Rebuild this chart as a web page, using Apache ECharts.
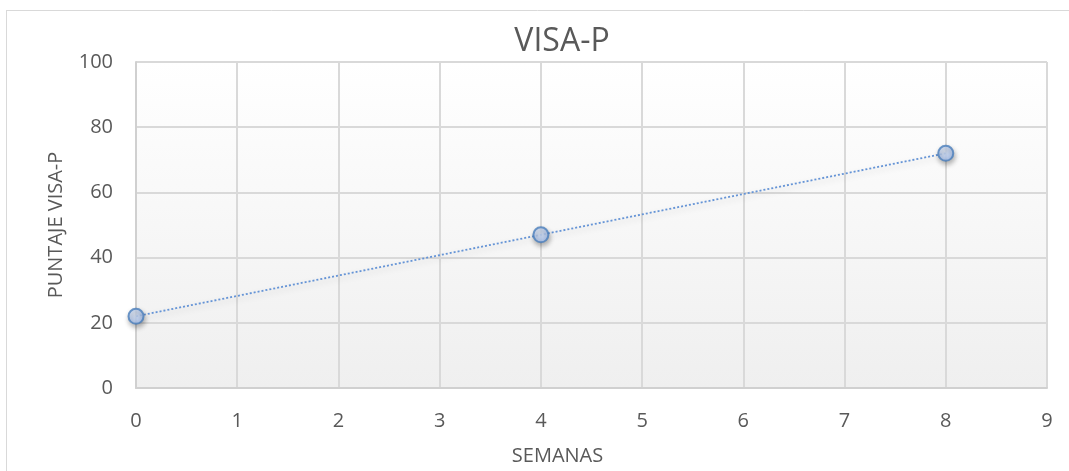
<!DOCTYPE html>
<html>
<head>
<meta charset="utf-8">
<script src="https://cdn.jsdelivr.net/npm/echarts@6/dist/echarts.min.js"></script>
<style>
  html, body { margin: 0; padding: 0; background: #fff; }
  #main { width: 1069px; height: 471px; }
</style>
</head>
<body>
<div id="main"></div>
<script>
// datos
var semanas = [0, 4, 8]
var puntaje = [22, 47, 72]
var xTicks = [0, 1, 2, 3, 4, 5, 6, 7, 8, 9]
var yTicks = [0, 20, 40, 60, 80, 100]

var gris = '#595959'
var puntos = semanas.map(function (s, i) { return [s, puntaje[i]] })

var chart = echarts.init(document.getElementById('main'))
chart.setOption({
  backgroundColor: '#fff',
  title: {
    text: 'VISA-P',
    left: 557,
    textAlign: 'center',
    top: 21,
    textStyle: { color: gris, fontSize: 32, fontWeight: 'normal', fontFamily: 'Open Sans' }
  },
  graphic: [
    // borde del area del grafico (solo arriba e izquierda visibles)
    { type: 'line', shape: { x1: 6, y1: 10.5, x2: 1069, y2: 10.5 }, style: { stroke: '#d9d9d9', lineWidth: 1 } },
    { type: 'line', shape: { x1: 6.5, y1: 10, x2: 6.5, y2: 471 }, style: { stroke: '#d9d9d9', lineWidth: 1 } }
  ],
  grid: {
    left: 136,
    right: 22,
    top: 62,
    bottom: 83,
    outerBoundsMode: 'none',
    show: true,
    borderWidth: 0,
    backgroundColor: {
      type: 'linear', x: 0, y: 0, x2: 0, y2: 1,
      colorStops: [
        { offset: 0, color: '#ffffff' },
        { offset: 1, color: '#efefef' }
      ]
    }
  },
  xAxis: {
    type: 'value',
    min: xTicks[0],
    max: xTicks[xTicks.length - 1],
    interval: 1,
    name: 'SEMANAS',
    nameLocation: 'middle',
    nameGap: 58,
    // el titulo del eje esta centrado en el grafico, no en el area de trazado
    nameTextStyle: { color: gris, fontSize: 20, fontFamily: 'Open Sans', padding: [0, 68, 0, 0] },
    axisLine: { show: true, lineStyle: { color: '#d0d0d0', width: 2 } },
    axisTick: { show: false },
    axisLabel: { color: gris, fontSize: 20, margin: 23, fontFamily: 'Open Sans' },
    splitLine: { show: true, lineStyle: { color: '#d9d9d9', width: 2 } }
  },
  yAxis: {
    type: 'value',
    min: yTicks[0],
    max: yTicks[yTicks.length - 1],
    interval: 20,
    name: 'PUNTAJE VISA-P',
    nameLocation: 'middle',
    nameGap: 70,
    nameTextStyle: { color: gris, fontSize: 20, fontFamily: 'Open Sans' },
    axisLine: { show: true, lineStyle: { color: '#d0d0d0', width: 2 } },
    axisTick: { show: false },
    axisLabel: { color: gris, fontSize: 20, margin: 23, fontFamily: 'Open Sans' },
    splitLine: { show: true, lineStyle: { color: '#d9d9d9', width: 2 } }
  },
  series: [
    {
      // linea de tendencia punteada
      type: 'line',
      data: puntos,
      symbol: 'none',
      silent: true,
      lineStyle: {
        color: '#6594d6',
        width: 1.8,
        type: [2, 2],
        shadowColor: 'rgba(0,0,0,0.2)',
        shadowBlur: 6,
        shadowOffsetY: 3
      },
      z: 2
    },
    {
      type: 'scatter',
      data: puntos,
      symbolSize: 15,
      itemStyle: {
        color: {
          type: 'radial', x: 0.4, y: 0.35, r: 0.7,
          colorStops: [
            { offset: 0, color: '#dde9fc' },
            { offset: 1, color: '#a2bff2' }
          ]
        },
        borderColor: '#4a7ebb',
        borderWidth: 2,
        shadowColor: 'rgba(0,0,0,0.35)',
        shadowBlur: 5,
        shadowOffsetX: 1,
        shadowOffsetY: 3
      },
      z: 3
    }
  ]
})
</script>
</body>
</html>
